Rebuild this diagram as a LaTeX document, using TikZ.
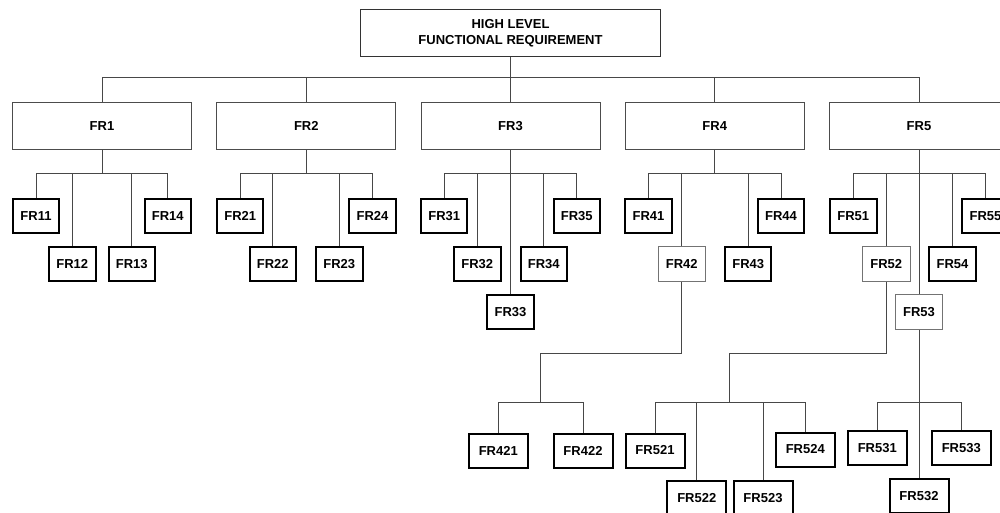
\documentclass[tikz,border=0pt]{standalone}
\usepackage{fontspec}
\setmainfont{Liberation Sans}
\begin{document}
\begin{tikzpicture}[x=0.75pt,y=-0.75pt]
\tikzset{
  conn/.style={draw=black!72, line width=0.75pt},
  basebox/.style={rectangle, inner sep=0pt, align=center,
    font=\bfseries\fontsize{9.75}{12.2}\selectfont},
  topbox/.style={basebox, draw=black!80, line width=0.75pt, minimum width=225pt, minimum height=35.25pt},
  lvlone/.style={basebox, draw=black!70, line width=0.75pt, minimum width=134.25pt, minimum height=35.25pt},
  leafbox/.style={basebox, draw=black, line width=1.5pt, minimum width=34.875pt, minimum height=25.5pt},
  midbox/.style={basebox, draw=black!55, line width=0.75pt, minimum width=35.625pt, minimum height=26.25pt},
  leafwide/.style={leafbox, minimum width=44.25pt},
}
\useasboundingbox (0,0) rectangle (1000,512);
\clip (0,0) rectangle (1000,512);
\fill[white] (0,0) rectangle (1000,512);

% top
\node[topbox] (top) at (510.5,33.3) {HIGH LEVEL\\FUNCTIONAL REQUIREMENT};
% level 1
\node[lvlone] (fr1) at (102,126) {FR1};
\node[lvlone] (fr2) at (306.3,126) {FR2};
\node[lvlone] (fr3) at (510.5,126) {FR3};
\node[lvlone] (fr4) at (714.7,126) {FR4};
\node[lvlone] (fr5) at (919,126) {FR5};
\coordinate (b0) at (510.5,77.7);
\draw[conn] (top) -- (b0);
\foreach \k in {1,...,5}{\draw[conn] (b0) -| (fr\k);}

% group 1
\node[leafbox] (fr11) at (36,216) {FR11};
\node[leafbox] (fr12) at (72.3,264) {FR12};
\node[leafbox] (fr13) at (131.8,264) {FR13};
\node[leafbox] (fr14) at (167.8,216) {FR14};
\coordinate (b1) at (102,173.7);
\draw[conn] (fr1) -- (b1);
\foreach \k in {11,12,13,14}{\draw[conn] (b1) -| (fr\k);}

% group 2
\node[leafbox] (fr21) at (240.2,216) {FR21};
\node[leafbox] (fr22) at (272.8,264) {FR22};
\node[leafbox] (fr23) at (339.3,264) {FR23};
\node[leafbox] (fr24) at (372.5,216) {FR24};
\coordinate (b2) at (306.3,173.7);
\draw[conn] (fr2) -- (b2);
\foreach \k in {21,22,23,24}{\draw[conn] (b2) -| (fr\k);}

% group 3
\node[leafbox] (fr31) at (444.2,216) {FR31};
\node[leafbox] (fr32) at (477.3,264) {FR32};
\node[leafbox] (fr33) at (510.5,312) {FR33};
\node[leafbox] (fr34) at (543.8,264) {FR34};
\node[leafbox] (fr35) at (576.8,216) {FR35};
\coordinate (b3) at (510.5,173.7);
\draw[conn] (fr3) -- (b3);
\foreach \k in {31,32,34,35}{\draw[conn] (b3) -| (fr\k);}
\draw[conn] (b3) -- (fr33);

% group 4
\node[leafbox] (fr41) at (648.5,216) {FR41};
\node[midbox] (fr42) at (681.8,264) {FR42};
\node[leafbox] (fr43) at (748.2,264) {FR43};
\node[leafbox] (fr44) at (781,216) {FR44};
\coordinate (b4) at (714.7,173.7);
\draw[conn] (fr4) -- (b4);
\foreach \k in {41,42,43,44}{\draw[conn] (b4) -| (fr\k);}

% group 5
\node[leafbox] (fr51) at (853.3,216) {FR51};
\node[midbox] (fr52) at (886.3,264) {FR52};
\node[midbox] (fr53) at (919,312) {FR53};
\node[leafbox] (fr54) at (952.5,264) {FR54};
\node[leafbox] (fr55) at (985.5,216) {FR55};
\coordinate (b5) at (919,173.7);
\draw[conn] (fr5) -- (b5);
\foreach \k in {51,52,54,55}{\draw[conn] (b5) -| (fr\k);}
\draw[conn] (b5) -- (fr53);

% FR42 children
\node[leafwide] (fr421) at (498.3,450.5) {FR421};
\node[leafwide] (fr422) at (583,450.5) {FR422};
\coordinate (j42) at (540.3,353.7);
\coordinate (b42) at (540.3,402);
\draw[conn] (fr42) |- (j42) -- (b42);
\draw[conn] (b42) -| (fr421);
\draw[conn] (b42) -| (fr422);

% FR52 children
\node[leafwide] (fr521) at (655,450.5) {FR521};
\node[leafwide] (fr522) at (696.8,498) {FR522};
\node[leafwide] (fr523) at (763,498) {FR523};
\node[leafwide] (fr524) at (805.3,449.5) {FR524};
\coordinate (j52) at (729.7,353.7);
\coordinate (b52) at (729.7,402);
\draw[conn] (fr52) |- (j52) -- (b52);
\foreach \k in {521,522,523,524}{\draw[conn] (b52) -| (fr\k);}

% FR53 children
\node[leafwide] (fr531) at (877.3,448) {FR531};
\node[leafwide] (fr532) at (919,496.3) {FR532};
\node[leafwide] (fr533) at (961.3,448) {FR533};
\coordinate (b53) at (919,402);
\draw[conn] (fr53) -- (b53);
\draw[conn] (b53) -| (fr531);
\draw[conn] (b53) -| (fr533);
\draw[conn] (b53) -- (fr532);
\end{tikzpicture}
\end{document}
